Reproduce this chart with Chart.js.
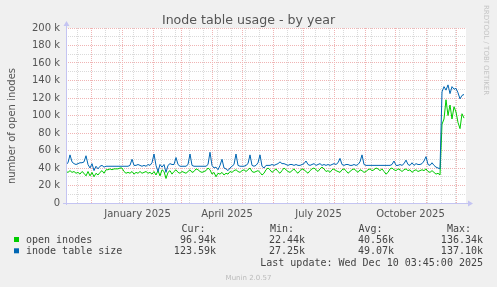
<!DOCTYPE html>
<html>
<head>
<meta charset="utf-8">
<script src="https://cdn.jsdelivr.net/npm/chart.js@4.4.1/dist/chart.umd.min.js"></script>
<style>
  html, body { margin: 0; padding: 0; background: #f0f0f0; overflow: hidden; }
</style>
</head>
<body>
<canvas id="inodes" width="497" height="287"></canvas>
<script>
// values in thousands, one sample every 2 days starting 6 Nov 2024
const sampleStepDays = 2;
const openInodes = [
  36,35,37,35,36,34,35,33,36,34, 31,36,31,35,30,34,32,35,37,34,
  38,38,39,38,39,39,39,40,40,36, 34,35,34,36,33,35,34,36,34,35,
  36,34,35,33,36,32,37,31,38,36, 28,35,37,33,36,38,35,34,36,35,
  34,36,38,35,36,39,38,36,35,36, 37,40,38,33,35,30,34,33,35,32,
  34,33,36,35,37,38,36,35,37,38, 36,38,40,36,35,36,37,35,32,34,
  38,40,38,35,37,39,36,34,37,40, 38,36,35,37,39,36,34,37,39,38,
  36,34,37,39,40,38,36,39,41,39, 36,37,35,38,39,37,36,35,38,39,
  37,34,36,38,39,37,35,38,37,35, 36,38,39,37,38,40,39,37,39,36,
  33,35,39,40,38,37,39,38,36,38, 39,37,38,35,37,38,36,37,38,37,
  39,36,35,37,35,33,34,32,90,96, 118,100,112,96,110,104,92,85,102,97
];
const inodeTableSize = [
  44,46,55,47,45,44,45,46,46,47, 54,44,40,45,37,42,39,42,43,41,
  42,42,42,42,42,42,42,42,42,42, 42,42,43,50,43,43,44,43,42,43,
  42,44,43,46,56,43,36,44,41,44, 35,43,45,44,44,52,44,42,42,42,
  42,44,56,43,42,42,42,42,42,42, 42,44,58,43,40,41,38,43,50,40,
  39,37,40,42,44,56,43,42,42,42, 43,45,55,43,42,43,46,55,42,40,
  43,43,43,44,43,44,45,47,45,45, 44,43,44,44,43,44,43,43,44,45,
  48,44,43,44,45,43,44,45,43,44, 43,44,43,44,45,44,46,51,44,43,
  44,44,43,43,44,43,44,47,55,44, 43,43,43,43,43,43,43,43,43,43,
  43,43,43,44,48,43,43,44,43,45, 49,44,43,46,43,45,44,44,45,48,
  53,44,43,46,43,41,40,39,127,133, 129,135,125,133,130,131,126,119,123,124
];

// x axis: days since 6 Nov 2024
const monthStartDays = [25, 56, 87, 115, 146, 176, 207, 237, 268, 299, 329, 360, 390];
const minorGridDays = [11, 39, 53, 67, 81, 95, 109, 123, 137, 151, 165, 179, 193, 207, 221, 235,
  249, 263, 277, 291, 305, 319, 333, 347, 361, 375, 389];
const xLabelDays = [71.5, 161, 252.5, 344.5];
const xLabels = ['January 2025', 'April 2025', 'July 2025', 'October 2025'];

const yGridValues = [0,10,20,30,40,50,60,70,80,90,100,110,120,130,140,150,160,170,180,190,200];
const yLabelValues = [0, 20, 40, 60, 80, 100, 120, 140, 160, 180, 200];
const yLabels = ['0', '20 k', '40 k', '60 k', '80 k', '100 k', '120 k', '140 k', '160 k', '180 k', '200 k'];

const legendRows = [
  { name: 'open inodes', color: '#00cc00', cur: '96.94k', min: '22.44k', avg: '40.56k', max: '136.34k' },
  { name: 'inode table size', color: '#0066b3', cur: '123.59k', min: '27.25k', avg: '49.07k', max: '137.10k' }
];

const majorColor = '#f0b4b4';
const minorColor = '#dadada';
const axisColor = '#c4c4f2';
const textColor = '#555';

const toPoints = (arr) => arr.map((v, i) => ({ x: i * sampleStepDays, y: v }));

const background = {
  id: 'rrdBackground',
  beforeDraw: (chart) => {
    const { ctx, chartArea: a } = chart;
    ctx.save();
    ctx.fillStyle = '#f0f0f0';
    ctx.fillRect(0, 0, chart.width, chart.height);
    ctx.fillStyle = '#ffffff';
    ctx.fillRect(a.left, a.top, a.right - a.left, a.bottom - a.top);
    ctx.restore();
  }
};

const decorations = {
  id: 'rrdDecorations',
  afterDraw: (chart) => {
    const { ctx, chartArea: a } = chart;
    const xs = chart.scales.x, ys = chart.scales.y;
    ctx.save();

    // axes with arrows
    ctx.strokeStyle = axisColor;
    ctx.fillStyle = axisColor;
    ctx.lineWidth = 1;
    ctx.beginPath();
    ctx.moveTo(a.left + 0.5, a.bottom + 2);
    ctx.lineTo(a.left + 0.5, a.top - 3);
    ctx.moveTo(a.left - 3, a.bottom + 0.5);
    ctx.lineTo(a.right + 3, a.bottom + 0.5);
    ctx.stroke();
    ctx.beginPath();
    ctx.moveTo(a.left + 0.5, a.top - 7);
    ctx.lineTo(a.left - 2.5, a.top - 2);
    ctx.lineTo(a.left + 3.5, a.top - 2);
    ctx.fill();
    ctx.beginPath();
    ctx.moveTo(a.right + 7, a.bottom + 0.5);
    ctx.lineTo(a.right + 2, a.bottom - 2.5);
    ctx.lineTo(a.right + 2, a.bottom + 3.5);
    ctx.fill();

    // title
    ctx.fillStyle = textColor;
    ctx.font = '12.6px "DejaVu Sans"';
    ctx.textAlign = 'center';
    ctx.textBaseline = 'alphabetic';
    ctx.fillText('Inode table usage - by year', 248.5, 24);

    // y tick labels
    ctx.font = '10px "DejaVu Sans"';
    ctx.textAlign = 'right';
    ctx.textBaseline = 'middle';
    yLabelValues.forEach((v, i) => {
      ctx.fillText(yLabels[i], a.left - 6, ys.getPixelForValue(v));
    });

    // x labels
    ctx.textAlign = 'center';
    ctx.textBaseline = 'alphabetic';
    xLabelDays.forEach((d, i) => {
      ctx.fillText(xLabels[i], xs.getPixelForValue(d), 217);
    });

    // y axis title
    ctx.save();
    ctx.translate(12, 126);
    ctx.rotate(-Math.PI / 2);
    ctx.textAlign = 'center';
    ctx.textBaseline = 'middle';
    ctx.fillText('number of open inodes', 0, 0);
    ctx.restore();

    // rrdtool watermark
    ctx.save();
    ctx.translate(486, 5);
    ctx.rotate(Math.PI / 2);
    ctx.fillStyle = '#c4c4c4';
    ctx.font = '7px "DejaVu Sans"';
    ctx.textAlign = 'left';
    ctx.textBaseline = 'middle';
    ctx.fillText('RRDTOOL / TOBI OETIKER', 0, 0);
    ctx.restore();

    // legend
    ctx.font = '10px "DejaVu Sans Mono"';
    ctx.fillStyle = '#444';
    ctx.textAlign = 'left';
    ctx.fillText('Cur:', 181.5, 231.5);
    ctx.fillText('Min:', 270, 231.5);
    ctx.fillText('Avg:', 358.5, 231.5);
    ctx.fillText('Max:', 447, 231.5);
    legendRows.forEach((r, i) => {
      const y = 243 + i * 11.3;
      ctx.fillStyle = r.color;
      ctx.fillRect(14, y - 6, 5, 5);
      ctx.fillStyle = '#444';
      ctx.textAlign = 'left';
      ctx.fillText(r.name, 26, y);
      ctx.textAlign = 'right';
      ctx.fillText(r.cur, 216, y);
      ctx.fillText(r.min, 305, y);
      ctx.fillText(r.avg, 394, y);
      ctx.fillText(r.max, 483, y);
    });
    ctx.textAlign = 'right';
    ctx.fillText('Last update: Wed Dec 10 03:45:00 2025', 483, 265.6);

    ctx.fillStyle = '#bbbbbb';
    ctx.font = '7px "DejaVu Sans"';
    ctx.textAlign = 'center';
    ctx.fillText('Munin 2.0.57', 248.5, 279.5);
    ctx.restore();
  }
};

const xGridTicks = minorGridDays.filter(d => !monthStartDays.includes(d)).concat(monthStartDays);

const canvas = document.getElementById('inodes');
window.inodeChart = new Chart(canvas.getContext('2d'), {
  type: 'line',
  data: {
    datasets: [
      {
        label: 'inode table size',
        data: toPoints(inodeTableSize),
        borderColor: '#0066b3',
        borderWidth: 1,
        order: 0
      },
      {
        label: 'open inodes',
        data: toPoints(openInodes),
        borderColor: '#00cc00',
        borderWidth: 1,
        order: 1
      }
    ]
  },
  options: {
    responsive: false,
    animation: false,
    events: [],
    layout: { padding: { left: 66, right: 31, top: 28, bottom: 84 } },
    elements: {
      point: { radius: 0 },
      line: { tension: 0 }
    },
    plugins: {
      legend: { display: false },
      tooltip: { enabled: false },
      title: { display: false }
    },
    scales: {
      x: {
        type: 'linear',
        min: 0,
        max: 400,
        afterBuildTicks: (s) => { s.ticks = xGridTicks.map(v => ({ value: v })); },
        ticks: { display: false },
        grid: {
          drawTicks: false,
          lineWidth: 1,
          color: (c) => monthStartDays.includes(c.tick.value) ? majorColor : minorColor
        },
        border: { display: false, dash: [1, 1] }
      },
      y: {
        type: 'linear',
        min: 0,
        max: 200,
        afterBuildTicks: (s) => { s.ticks = yGridValues.map(v => ({ value: v })); },
        ticks: { display: false },
        grid: {
          drawTicks: false,
          lineWidth: 1,
          color: (c) => c.tick.value % 20 === 0 ? majorColor : minorColor
        },
        border: { display: false, dash: [1, 1] }
      }
    }
  },
  plugins: [background, decorations]
});
</script>
</body>
</html>
